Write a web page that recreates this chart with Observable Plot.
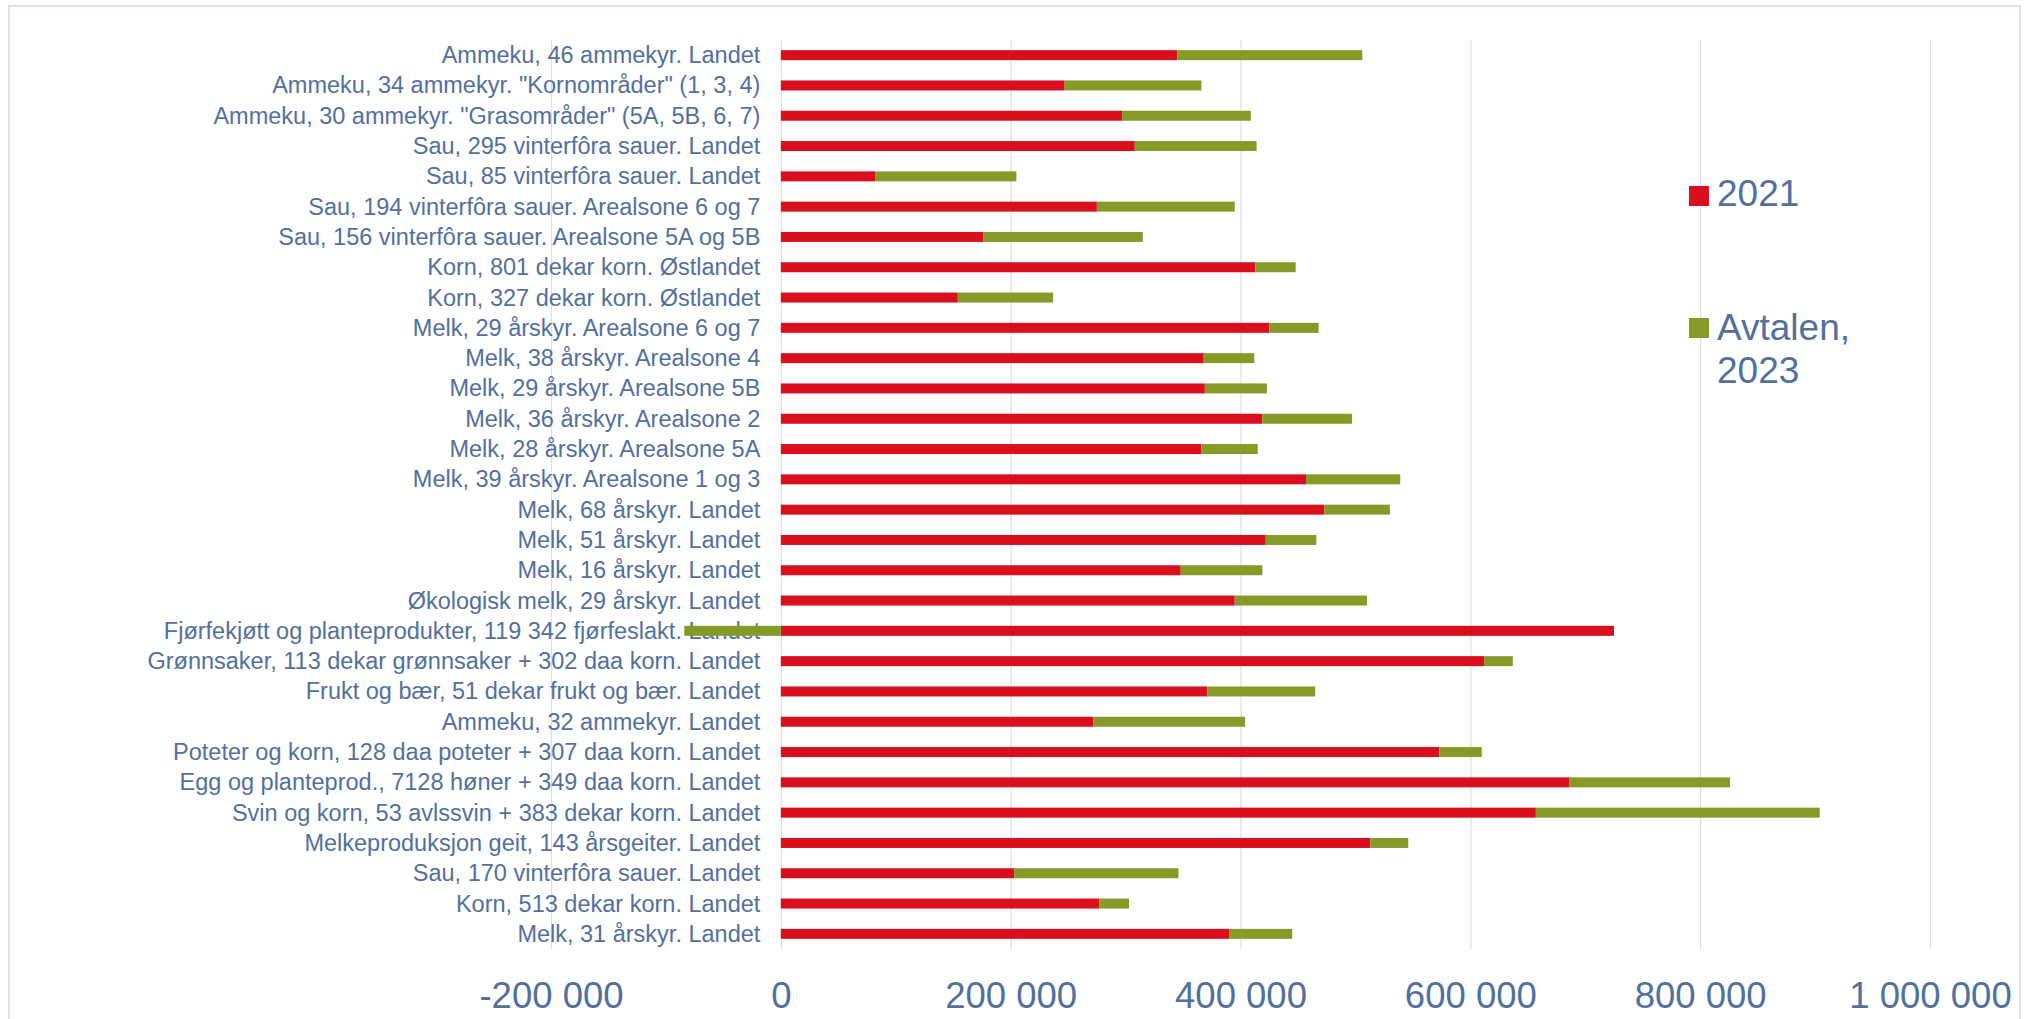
<!DOCTYPE html>
<html>
<head>
<meta charset="utf-8">
<script src="https://cdn.jsdelivr.net/npm/d3@7"></script>
<script src="https://cdn.jsdelivr.net/npm/@observablehq/plot@0.6"></script>
<style>
  html, body { margin: 0; padding: 0; background: #ffffff; }
  #wrap { position: relative; width: 2029px; height: 1019px; overflow: hidden; font-family: "Liberation Sans", Arial, sans-serif; }
  #frame { position: absolute; left: 8px; top: 5px; width: 2013px; height: 1100px; border: 2px solid #dce3ee; box-sizing: border-box; }
  #chart { position: absolute; left: 0; top: 0; }
  .sw { position: absolute; width: 20px; height: 20px; }
  .lt { position: absolute; font-size: 37px; line-height: 43px; color: #52709e; white-space: nowrap; }
</style>
</head>
<body>
<div id="wrap">
  <div id="frame"></div>
  <div id="chart"></div>
</div>
<script>
const categories = [
  "Ammeku, 46 ammekyr. Landet",
  "Ammeku, 34 ammekyr. \"Kornområder\" (1, 3, 4)",
  "Ammeku, 30 ammekyr. \"Grasområder\" (5A, 5B, 6, 7)",
  "Sau, 295 vinterfôra sauer. Landet",
  "Sau, 85 vinterfôra sauer. Landet",
  "Sau, 194 vinterfôra sauer. Arealsone 6 og 7",
  "Sau, 156 vinterfôra sauer. Arealsone 5A og 5B",
  "Korn, 801 dekar korn. Østlandet",
  "Korn, 327 dekar korn. Østlandet",
  "Melk, 29 årskyr. Arealsone 6 og 7",
  "Melk, 38 årskyr. Arealsone 4",
  "Melk, 29 årskyr. Arealsone 5B",
  "Melk, 36 årskyr. Arealsone 2",
  "Melk, 28 årskyr. Arealsone 5A",
  "Melk, 39 årskyr. Arealsone 1 og 3",
  "Melk, 68 årskyr. Landet",
  "Melk, 51 årskyr. Landet",
  "Melk, 16 årskyr. Landet",
  "Økologisk melk, 29 årskyr. Landet",
  "Fjørfekjøtt og planteprodukter, 119 342 fjørfeslakt. Landet",
  "Grønnsaker, 113 dekar grønnsaker + 302 daa korn. Landet",
  "Frukt og bær, 51 dekar frukt og bær. Landet",
  "Ammeku, 32 ammekyr. Landet",
  "Poteter og korn, 128 daa poteter + 307 daa korn. Landet",
  "Egg og planteprod., 7128 høner + 349 daa korn. Landet",
  "Svin og korn, 53 avlssvin + 383 dekar korn. Landet",
  "Melkeproduksjon geit, 143 årsgeiter. Landet",
  "Sau, 170 vinterfôra sauer. Landet",
  "Korn, 513 dekar korn. Landet",
  "Melk, 31 årskyr. Landet"
];
const values2021 = [
  345000, 247000, 297000, 308000, 82000, 275000, 176000, 413000, 154000, 425000,
  368000, 369000, 419000, 366000, 457000, 473000, 422000, 348000, 395000, 725000,
  612000, 371000, 272000, 573000, 686000, 657000, 513000, 203000, 277000, 390000
];
const valuesAvtalen2023 = [
  161000, 119000, 112000, 106000, 123000, 120000, 139000, 35000, 83000, 43000,
  44000, 54000, 78000, 49000, 82000, 57000, 44000, 71000, 115000, -84000,
  25000, 94000, 132000, 37000, 140000, 247000, 33000, 143000, 26000, 55000
];
const seriesNames = ["2021", "Avtalen, 2023"];
const seriesColors = ["#d90f1e", "#869a28"];
const xTicks = [-200000, 0, 200000, 400000, 600000, 800000, 1000000];

const rows = [];
categories.forEach((c, i) => {
  rows.push({cat: c, series: seriesNames[0], value: values2021[i]});
  rows.push({cat: c, series: seriesNames[1], value: valuesAvtalen2023[i]});
});

const nb = d3.formatLocale({decimal: ",", thousands: " ", grouping: [3], currency: ["", ""], minus: "-"}).format(",");
const labelColor = "#52709e";

const plot = Plot.plot({
  width: 2029,
  height: 1019,
  marginLeft: 551,
  marginRight: 99,
  marginTop: 40,
  marginBottom: 70,
  style: {fontFamily: "'Liberation Sans', Arial, sans-serif", color: labelColor, background: "transparent"},
  x: {domain: [-200000, 1000000], label: null},
  y: {domain: categories, paddingInner: 0.67, paddingOuter: 0.335, round: false, label: null, axis: null},
  color: {domain: seriesNames, range: seriesColors},
  marks: [
    Plot.gridX(xTicks, {stroke: "#d8dfeb", strokeOpacity: 1, strokeWidth: 1.2}),
    Plot.axisX(xTicks, {tickSize: 0, tickPadding: 33, tickFormat: nb, fontSize: 36.5, fill: labelColor, label: null}),
    Plot.text(categories, {x: () => 0, y: d => d, text: d => d, textAnchor: "end", dx: -21, fontSize: 23.5, fill: labelColor}),
    Plot.barX(rows, Plot.stackX({y: "cat", x: "value", fill: "series", order: null}))
  ]
});
document.getElementById("chart").appendChild(plot);

// legend
const wrap = document.getElementById("wrap");
const legendItems = [
  {name: seriesNames[0], color: seriesColors[0], sw: 186, tt: 172, html: "2021"},
  {name: seriesNames[1], color: seriesColors[1], sw: 318, tt: 306, html: "Avtalen,<br>2023"}
];
legendItems.forEach(it => {
  const s = document.createElement("div");
  s.className = "sw";
  s.style.left = "1689px"; s.style.top = it.sw + "px"; s.style.background = it.color;
  wrap.appendChild(s);
  const t = document.createElement("div");
  t.className = "lt";
  t.style.left = "1717px"; t.style.top = it.tt + "px";
  t.innerHTML = it.html;
  wrap.appendChild(t);
});
</script>
</body>
</html>
